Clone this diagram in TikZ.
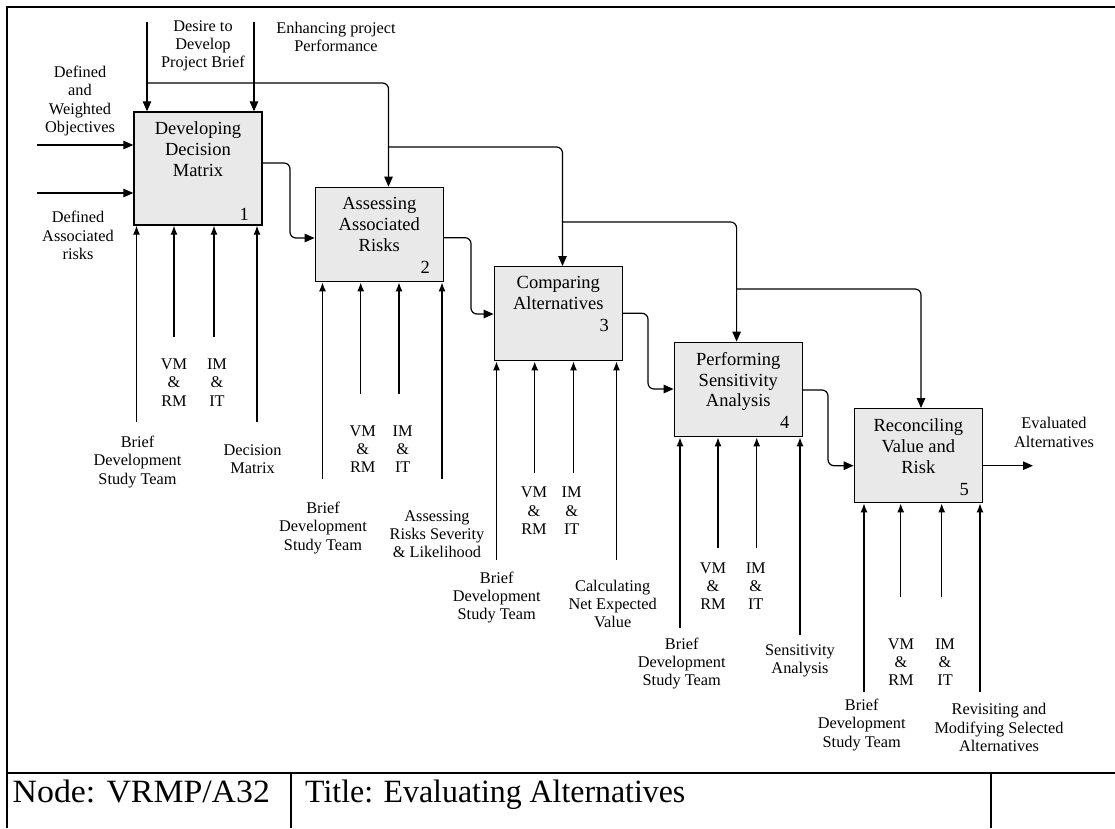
\documentclass[tikz,border=0pt]{standalone}
\usepackage{fontspec}
\setmainfont{Liberation Serif}
\usetikzlibrary{arrows.meta}
\definecolor{boxfill}{HTML}{E9E9E9}
\begin{document}
\begin{tikzpicture}[x=1pt,y=-1pt,
  proc/.style={draw=black, line width=1.4pt, fill=boxfill, minimum width=128pt, inner sep=0pt},
  ptext/.style={font=\fontsize{18.5}{20.8}\selectfont, align=center, inner sep=0pt, anchor=north},
  pnum/.style={font=\fontsize{18.5}{20.8}\selectfont, inner sep=0pt, anchor=base east},
  lbl/.style={font=\fontsize{16.3}{18.3}\selectfont, align=center, inner sep=0pt},
  ttl/.style={font=\fontsize{32.5}{36}\selectfont, inner sep=0pt, anchor=base west},
  flow/.style={line width=1.2pt, -{Triangle[length=10pt,width=8.5pt]}, rounded corners=6pt},
  mech/.style={line width=1.2pt, -{Latex[length=9pt,width=7pt]}},
  frame/.style={line width=2pt},
]
\useasboundingbox (0,0) rectangle (1115,828);

% outer frame and title bar
\draw[frame] (1115,7) -- (7,7) -- (7,828);
\draw[frame] (7,773) -- (1115,773);
\draw[frame] (291,773) -- (291,828);
\draw[frame] (991,773) -- (991,828);
\node[ttl] (nodeid) at (12.5,802) {\scalebox{1.04}[1]{Node: VRMP/A32}};
\node[ttl] (title) at (305,802) {\scalebox{0.98}[1]{Title: Evaluating Alternatives}};

% activity boxes
\node[proc, minimum height=113pt]  (b1) at (198,168.5) {};
\node[proc, minimum height=94.4pt] (b2) at (379.3,234.5) {};
\node[proc, minimum height=94pt]   (b3) at (558.3,313.7) {};
\node[proc, minimum height=94.4pt] (b4) at (738.3,389.5) {};
\node[proc, minimum height=94pt]   (b5) at (918.3,455.7) {};

\node[ptext] (t1) at ([yshift=-10.5pt]b1.north) {Developing\\Decision\\Matrix};
\node[ptext] (t2) at ([yshift=-10.5pt]b2.north) {Assessing\\Associated\\Risks};
\node[ptext] (t3) at ([yshift=-10.5pt]b3.north) {Comparing\\Alternatives};
\node[ptext] (t4) at ([yshift=-10.5pt]b4.north) {Performing\\Sensitivity\\Analysis};
\node[ptext] (t5) at ([yshift=-10.5pt]b5.north) {Reconciling\\Value and\\Risk};

\node[pnum] (n1) at (249,220) {1};
\node[pnum] (n2) at (430,273.3) {2};
\node[pnum] (n3) at (609,331.7) {3};
\node[pnum] (n4) at (789.5,428.3) {4};
\node[pnum] (n5) at (969,495) {5};

% inputs to the first activity
\coordinate (i1) at (37,145);
\coordinate (i2) at (37,193);
\draw[flow] (i1) -- (i1 -| b1.west);
\draw[flow] (i2) -- (i2 -| b1.west);
\node[lbl] (inA) at (80,101) {Defined\\and\\Weighted\\Objectives};
\node[lbl] (inB) at (78,235.5) {Defined\\Associated\\risks};

% controls entering from the top
\coordinate (c1) at (147,22);
\coordinate (c2) at (254,22);
\draw[flow] (c1) -- (c1 |- b1.north);
\draw[flow] (c2) -- (c2 |- b1.north);
\node[lbl] (cA) at (203,46) {Desire to\\Develop\\Project Brief};
\node[lbl] (cB) at (336,37) {Enhancing project\\Performance};

\coordinate (j1) at (147,83);
\coordinate (j2) at (388.5,147);
\coordinate (j3) at (562.5,222);
\coordinate (j4) at (736.6,289);
\draw[flow] (j1) -| (388.5,0 |- b2.north);
\draw[flow] (j2) -| (562.5,0 |- b3.north);
\draw[flow] (j3) -| (736.6,0 |- b4.north);
\draw[flow] (j4) -| (921,0 |- b5.north);

% outputs passed from one activity to the next
\draw[flow] (b1.east |- 0,163)   -| (290,200) |- (b2.west |- 0,238);
\draw[flow] (b2.east |- 0,237.7) -| (471,280) |- (b3.west |- 0,314);
\draw[flow] (b3.east |- 0,313.3) -| (648,350) |- (b4.west |- 0,389);
\draw[flow] (b4.east |- 0,390)   -| (828,430) |- (b5.west |- 0,465.7);
\coordinate (o5) at (1033,465.7);
\draw[flow] (b5.east |- o5) -- (o5);
\node[lbl] (outL) at (1054,432.5) {Evaluated\\Alternatives};

% mechanisms entering from below
\foreach \x/\y [count=\i] in {136.5/421.7, 174/337, 214/337, 257/421.7}{
  \coordinate (m1-\i) at (\x,\y);
  \draw[mech] (m1-\i) -- (m1-\i |- b1.south);
}
\foreach \x/\y [count=\i] in {322.5/479, 360.7/394, 399/394, 442/479}{
  \coordinate (m2-\i) at (\x,\y);
  \draw[mech] (m2-\i) -- (m2-\i |- b2.south);
}
\foreach \x/\y [count=\i] in {496.5/560, 534.7/473, 573.5/473, 616.5/560}{
  \coordinate (m3-\i) at (\x,\y);
  \draw[mech] (m3-\i) -- (m3-\i |- b3.south);
}
\foreach \x/\y [count=\i] in {680/628, 718/548, 756.7/548, 800/635}{
  \coordinate (m4-\i) at (\x,\y);
  \draw[mech] (m4-\i) -- (m4-\i |- b4.south);
}
\foreach \x/\y [count=\i] in {864/691.7, 900.7/596.7, 941.7/596.7, 980/691.7}{
  \coordinate (m5-\i) at (\x,\y);
  \draw[mech] (m5-\i) -- (m5-\i |- b5.south);
}

% mechanism labels
\node[lbl] (l1a) at (137.5,462) {Brief\\Development\\Study Team};
\node[lbl] (l1b) at (174,382.5) {VM\\\&\\RM};
\node[lbl] (l1c) at (217,382.5) {IM\\\&\\IT};
\node[lbl] (l1d) at (252.5,459) {Decision\\Matrix};

\node[lbl] (l2a) at (323,528) {Brief\\Development\\Study Team};
\node[lbl] (l2b) at (362.7,449) {VM\\\&\\RM};
\node[lbl] (l2c) at (402.7,449) {IM\\\&\\IT};
\node[lbl] (l2d) at (437,534) {Assessing\\Risks Severity\\\& Likelihood};

\node[lbl] (l3a) at (496.7,597.7) {Brief\\Development\\Study Team};
\node[lbl] (l3b) at (534,510.7) {VM\\\&\\RM};
\node[lbl] (l3c) at (571.7,510.7) {IM\\\&\\IT};
\node[lbl] (l3d) at (612.7,604) {Calculating\\Net Expected\\Value};

\node[lbl] (l4a) at (681.7,663.7) {Brief\\Development\\Study Team};
\node[lbl] (l4b) at (713,586) {VM\\\&\\RM};
\node[lbl] (l4c) at (755.7,586) {IM\\\&\\IT};
\node[lbl] (l4d) at (800,661) {Sensitivity\\Analysis};

\node[lbl] (l5a) at (861.7,725) {Brief\\Development\\Study Team};
\node[lbl] (l5b) at (901,662) {VM\\\&\\RM};
\node[lbl] (l5c) at (945,662) {IM\\\&\\IT};
\node[lbl] (l5d) at (999,727.5) {Revisiting and\\Modifying Selected\\Alternatives};
\end{tikzpicture}
\end{document}
